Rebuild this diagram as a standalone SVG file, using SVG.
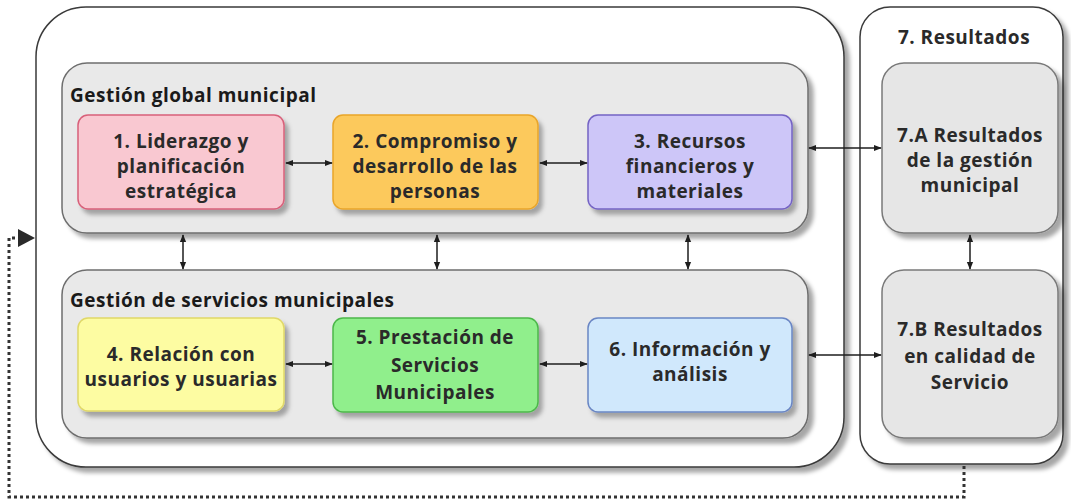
<svg xmlns="http://www.w3.org/2000/svg" width="1071" height="500" viewBox="0 0 1071 500">
<style>
text{font-family:"Open Sans","DejaVu Sans",sans-serif;font-weight:700;font-size:19px;letter-spacing:0.5px;text-anchor:middle;fill:#2a2a2a}
.grp{font-size:19px;letter-spacing:0.5px;text-anchor:start;fill:#1a1a1a}
.outer{fill:#ffffff;stroke:#3a3a3a;stroke-width:1.5}
.group{fill:#e9e9e9;stroke:#6e6e6e;stroke-width:1.5}
.res{fill:#e6e6e6;stroke:#7a7a7a;stroke-width:1.5}
.node{stroke-width:1.5}
.conn{stroke:#1e1e1e;stroke-width:1.5;fill:none}
.dot{stroke:#333;stroke-width:3;fill:none;stroke-dasharray:3 3}
</style>
<defs>
<filter id="sh" x="-10%" y="-10%" width="130%" height="130%">
<feDropShadow dx="5" dy="5" stdDeviation="2" flood-color="#000" flood-opacity="0.35"/>
</filter>
<filter id="shs" x="-10%" y="-10%" width="130%" height="130%">
<feDropShadow dx="4" dy="5" stdDeviation="2" flood-color="#000" flood-opacity="0.3"/>
</filter>
<marker id="ah" viewBox="0 0 10 10" refX="9" refY="5" markerWidth="8" markerHeight="8" markerUnits="userSpaceOnUse" orient="auto-start-reverse">
<path d="M0,1 L10,5 L0,9 Z" fill="#1e1e1e"/>
</marker>
</defs>

<g id="gestion-municipal">
<rect class="outer" x="36" y="7" width="808" height="460" rx="50" filter="url(#sh)"/>
</g>
<g id="resultados">
<rect class="outer" x="860" y="7" width="203" height="457" rx="30" filter="url(#sh)"/>
<text x="964" y="44">7. Resultados</text>
</g>

<g id="gestion-global">
<rect class="group" x="62" y="63" width="746" height="170" rx="25" filter="url(#sh)"/>
<text class="grp" x="70" y="102">Gestión global municipal</text>
</g>
<g id="gestion-servicios">
<rect class="group" x="62" y="270" width="746" height="168" rx="25" filter="url(#sh)"/>
<text class="grp" x="70" y="307">Gestión de servicios municipales</text>
</g>

<g id="n1">
<rect class="node" x="78" y="115" width="206" height="94" rx="10" fill="#f9c8d1" stroke="#d8607a" filter="url(#shs)"/>
<text x="181" y="148" fill="#3a2226">1. Liderazgo y</text>
<text x="181" y="173" fill="#3a2226">planificación</text>
<text x="181" y="198" fill="#3a2226">estratégica</text>
</g>
<g id="n2">
<rect class="node" x="333" y="115" width="205" height="94" rx="10" fill="#fcc95c" stroke="#e9a52a" filter="url(#shs)"/>
<text x="435" y="148" fill="#3a2810">2. Compromiso y</text>
<text x="435" y="173" fill="#3a2810">desarrollo de las</text>
<text x="435" y="198" fill="#3a2810">personas</text>
</g>
<g id="n3">
<rect class="node" x="588" y="115" width="204" height="94" rx="10" fill="#cdc6f8" stroke="#7464c4" filter="url(#shs)"/>
<text x="690" y="148" fill="#1e1a36">3. Recursos</text>
<text x="690" y="173" fill="#1e1a36">financieros y</text>
<text x="690" y="198" fill="#1e1a36">materiales</text>
</g>
<g id="n4">
<rect class="node" x="78" y="318" width="206" height="93" rx="10" fill="#fdfca2" stroke="#e0d868" filter="url(#shs)"/>
<text x="181" y="361" fill="#2e2e1e">4. Relación con</text>
<text x="181" y="386" fill="#2e2e1e">usuarios y usuarias</text>
</g>
<g id="n5">
<rect class="node" x="333" y="318" width="205" height="94" rx="10" fill="#90ef8c" stroke="#4cb84a" filter="url(#shs)"/>
<text x="435" y="344" fill="#123012">5. Prestación de</text>
<text x="435" y="372" fill="#123012">Servicios</text>
<text x="435" y="399" fill="#123012">Municipales</text>
</g>
<g id="n6">
<rect class="node" x="588" y="318" width="204" height="94" rx="10" fill="#d0e8fc" stroke="#6a86c4" filter="url(#shs)"/>
<text x="690" y="356" fill="#1a2030">6. Información y</text>
<text x="690" y="381" fill="#1a2030">análisis</text>
</g>
<g id="n7a">
<rect class="res" x="882" y="63" width="176" height="170" rx="22" filter="url(#sh)"/>
<text x="970" y="142">7.A Resultados</text>
<text x="970" y="167">de la gestión</text>
<text x="970" y="192">municipal</text>
</g>
<g id="n7b">
<rect class="res" x="882" y="270" width="176" height="168" rx="22" filter="url(#sh)"/>
<text x="970" y="336">7.B Resultados</text>
<text x="970" y="363">en calidad de</text>
<text x="970" y="389">Servicio</text>
</g>

<g id="connectors">
<line class="conn" x1="286" y1="163" x2="332" y2="163" marker-start="url(#ah)" marker-end="url(#ah)"/>
<line class="conn" x1="540" y1="163" x2="587" y2="163" marker-start="url(#ah)" marker-end="url(#ah)"/>
<line class="conn" x1="809" y1="148" x2="881" y2="148" marker-start="url(#ah)" marker-end="url(#ah)"/>
<line class="conn" x1="286" y1="364" x2="332" y2="364" marker-start="url(#ah)" marker-end="url(#ah)"/>
<line class="conn" x1="540" y1="364" x2="587" y2="364" marker-start="url(#ah)" marker-end="url(#ah)"/>
<line class="conn" x1="809" y1="355" x2="881" y2="355" marker-start="url(#ah)" marker-end="url(#ah)"/>
<line class="conn" x1="183" y1="235" x2="183" y2="269" marker-start="url(#ah)" marker-end="url(#ah)"/>
<line class="conn" x1="437" y1="235" x2="437" y2="269" marker-start="url(#ah)" marker-end="url(#ah)"/>
<line class="conn" x1="688" y1="235" x2="688" y2="269" marker-start="url(#ah)" marker-end="url(#ah)"/>
<line class="conn" x1="970" y1="235" x2="970" y2="269" marker-start="url(#ah)" marker-end="url(#ah)"/>
<path class="dot" d="M964,466 V497 H9 V238 H17"/>
<path d="M18,229 L35,238 L18,247 Z" fill="#2a2a2a"/>
</g>
</svg>
